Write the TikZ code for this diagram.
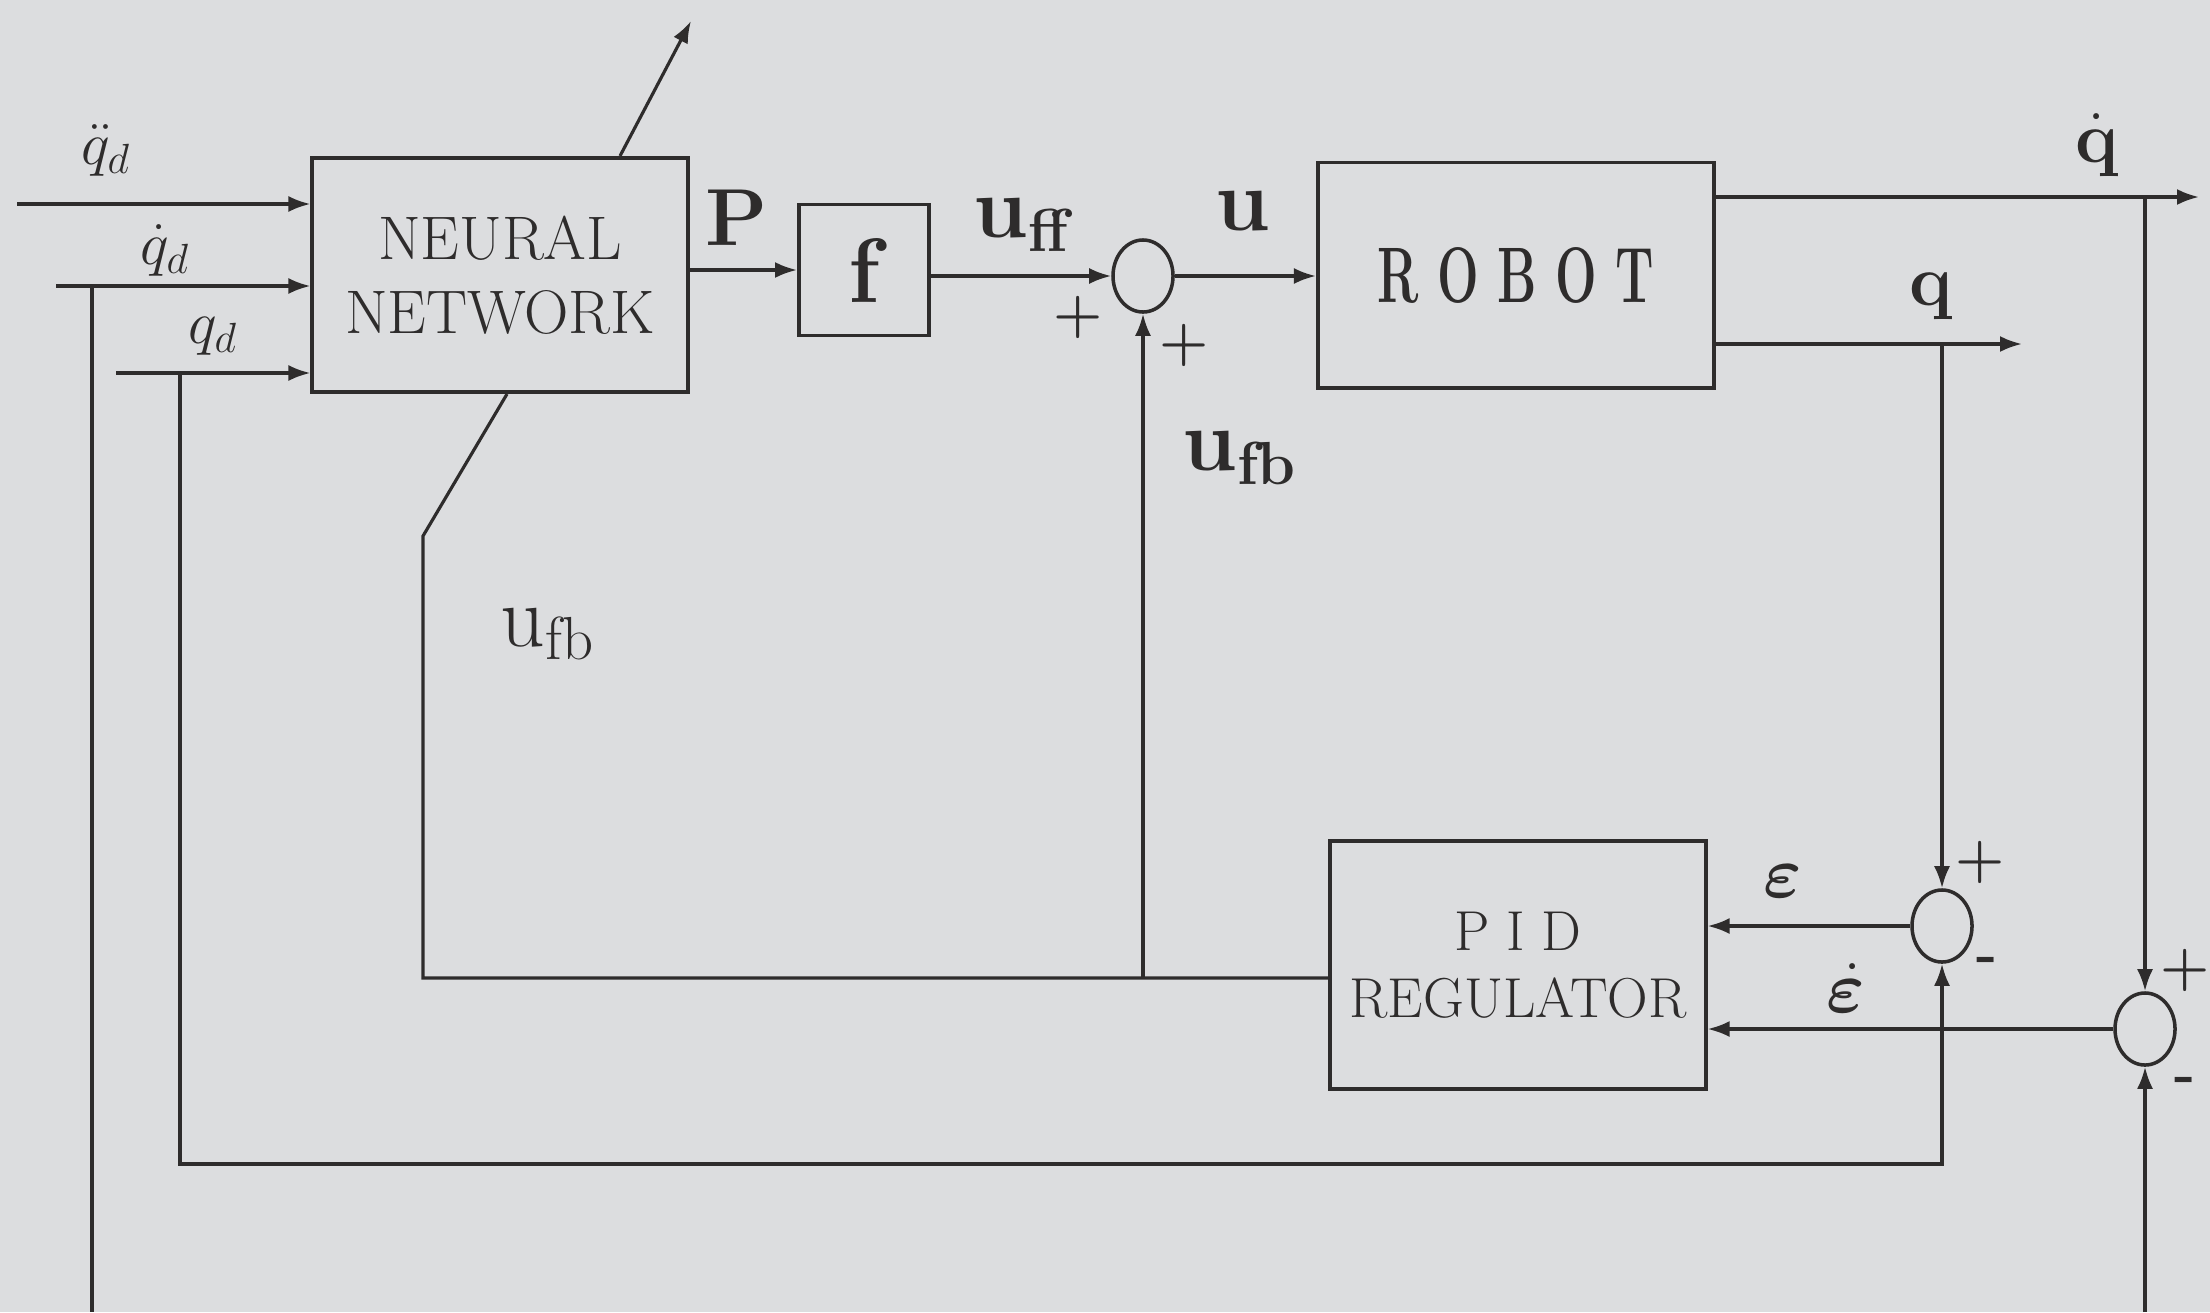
\documentclass[tikz,border=0pt]{standalone}
\usepackage{amsmath,amssymb,bm}
\usetikzlibrary{arrows.meta, positioning, calc, shapes.geometric}
\definecolor{paper}{HTML}{DCDDDF}
\definecolor{ink}{HTML}{2E2C2C}

\begin{document}
\begin{tikzpicture}[
    x=0.01cm, y=-0.01cm,
    >={Latex[length=2.2mm, width=1.6mm]},
    every node/.style={text=ink},
    line/.style={draw=ink, line width=0.9pt},
    block/.style={draw=ink, line width=1.1pt, inner sep=0pt, align=center},
    sumnode/.style={ellipse, draw=ink, line width=1pt, minimum width=0.6cm,
      minimum height=0.72cm, inner sep=0pt},
    siglabel/.style={font=\fontsize{24}{24}\selectfont},
    inlabel/.style={font=\fontsize{18}{18}\selectfont},
    signlabel/.style={font=\fontsize{16}{16}\selectfont\bfseries, inner sep=1pt},
  ]

  % Background
  \useasboundingbox (0,0) rectangle (2210,1312);
  \fill[paper] (0,0) rectangle (2210,1312);

  % Blocks
  \node[block, minimum width=3.75cm, minimum height=2.34cm,
    font=\fontsize{17.5}{21}\selectfont] (nn) at (500,275) {NEURAL\\NETWORK};
  \node[block, minimum width=1.30cm, minimum height=1.31cm,
    font=\fontsize{26}{26}\selectfont\bfseries] (f) at (864,270) {f};
  \node[sumnode] (s1) at (1143,276) {};
  \node[block, minimum width=3.96cm, minimum height=2.25cm,
    font=\fontsize{14}{14}\selectfont\bfseries] (robot) at (1516,275)
    {\scalebox{1}[1.6]{R O B O T}};
  \node[block, minimum width=3.75cm, minimum height=2.48cm,
    font=\fontsize{16}{19}\selectfont] (pid) at (1518,965) {P I D\\REGULATOR};
  \node[sumnode] (s2) at (1942,926) {};
  \node[sumnode] (s3) at (2145,1029) {};

  % Free ends and corners
  \coordinate (qddin) at (17,204);
  \coordinate (qdin) at (56,286);
  \coordinate (qin) at (116,373);
  \coordinate (qdbr) at (92,286);
  \coordinate (qdend) at (92,1312);
  \coordinate (qbr) at (180,373);
  \coordinate (qlow) at (180,1164);
  \coordinate (qdotout) at (2199,197);
  \coordinate (qout) at (2022,344);
  \coordinate (qdotend) at (2145,1312);
  \coordinate (fbcorner) at (423,978);
  \coordinate (fbkink) at (423,536);
  \coordinate (nnadapt) at (691,21);

  % Desired trajectory inputs
  \draw[line,->] (qddin) -- (qddin -| nn.west);
  \draw[line,->] (qdin) -- (qdin -| nn.west);
  \draw[line,->] (qin) -- (qin -| nn.west);
  \draw[line] (qdbr) -- (qdend);
  \draw[line,->] (qbr) -- (qlow) -| (s2.south);

  % Forward path
  \draw[line,->] (nn.east |- f) -- (f.west);
  \draw[line,->] (f.east |- s1) -- (s1.west);
  \draw[line,->] (s1.east) -- (robot.west |- s1);
  \draw[line,->] ($(nn.north)+(120,0)$) -- (nnadapt);

  % Robot outputs
  \draw[line,->] (robot.east |- qdotout) -- (qdotout);
  \draw[line,->] (robot.east |- qout) -- (qout);
  \draw[line,->] (s2 |- qout) -- (s2.north);
  \draw[line,->] (s3 |- qdotout) -- (s3.north);
  \draw[line,->] (qdotend) -- (s3.south);

  % Errors into the regulator
  \draw[line,->] (s2.west) -- (pid.east |- s2);
  \draw[line,->] (s3.west) -- (pid.east |- s3);

  % Feedback torque
  \draw[line] (pid.west |- fbcorner) -- (fbcorner) -- (fbkink) -- ($(nn.south)+(7,0)$);
  \draw[line,->] (s1 |- fbcorner) -- (s1.south);

  % Labels
  \node[inlabel] (lqdd) at (106,150) {$\ddot{q}_d$};
  \node[inlabel] (lqd) at (165,250) {$\dot{q}_d$};
  \node[inlabel] (lq) at (213,336) {$q_d$};
  \node[font=\fontsize{23}{23}\selectfont\bfseries] (lp) at (737,218) {P};
  \node[siglabel] (luff) at (1025,225) {$\mathbf{u}_{\mathbf{ff}}$};
  \node[siglabel] (lu) at (1243,211) {$\mathbf{u}$};
  \node[siglabel] (lufb) at (1240,458) {$\mathbf{u}_{\mathbf{fb}}$};
  \node[font=\fontsize{26}{26}\selectfont] (lufb2) at (548,634) {$\mathrm{u}_{\mathrm{fb}}$};
  \node[font=\fontsize{22}{22}\selectfont] (lqdot) at (2097,145) {$\dot{\mathbf{q}}$};
  \node[font=\fontsize{22}{22}\selectfont] (lqq) at (1931,296) {$\mathbf{q}$};
  \node[font=\fontsize{22}{22}\selectfont] (leps) at (1783,881) {$\bm{\varepsilon}$};
  \node[font=\fontsize{22}{22}\selectfont] (ledot) at (1846,988) {$\dot{\bm{\varepsilon}}$};

  % Signs at the summing points
  \node[signlabel] (p1) at (1078,317) {+};
  \node[signlabel] (p2) at (1184,345) {+};
  \node[signlabel] (p3) at (1980,862) {+};
  \node[signlabel] (m3) at (1987,965) {-};
  \node[signlabel] (p4) at (2185,970) {+};
  \node[signlabel] (m4) at (2185,1085) {-};

\end{tikzpicture}
\end{document}
